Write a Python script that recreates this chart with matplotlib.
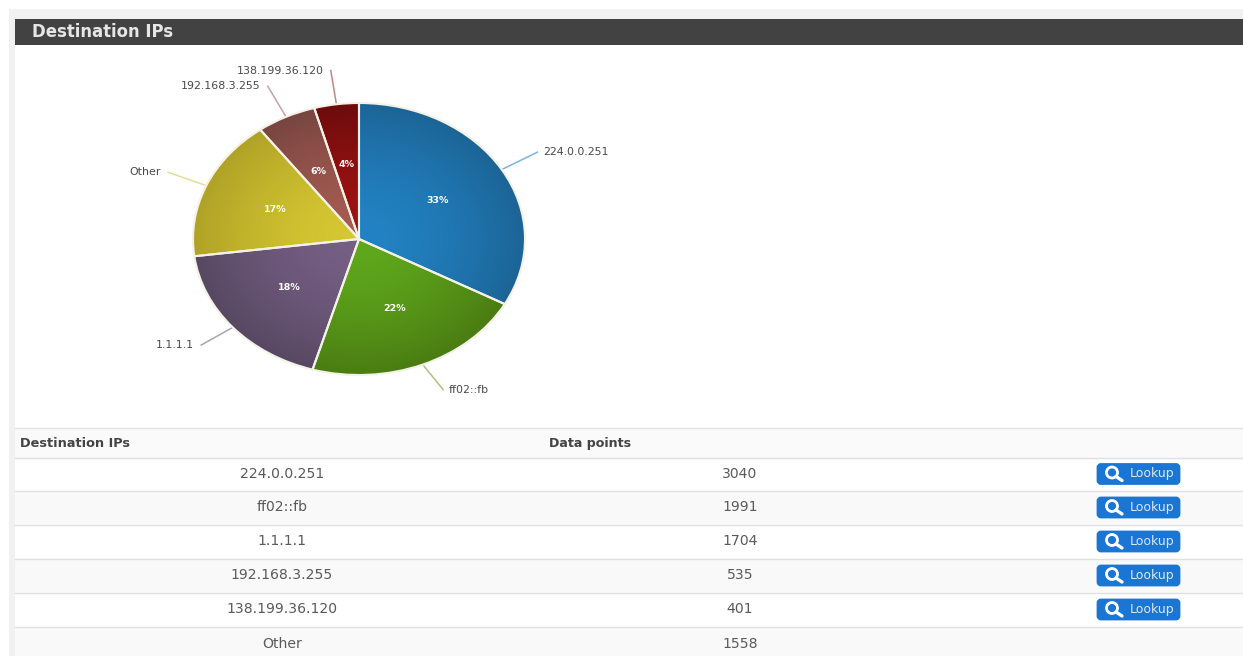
import matplotlib
matplotlib.use("Agg")
import matplotlib.pyplot as plt
import numpy as np
from matplotlib.colors import to_rgb
from matplotlib.lines import Line2D
from matplotlib.patches import Circle, FancyBboxPatch, Rectangle, Wedge

W, H = 1243, 656

# Traffic per destination, in the order the pie is drawn
pie_labels = ["224.0.0.251", "ff02::fb", "1.1.1.1", "Other", "192.168.3.255", "138.199.36.120"]
pie_values = [3040, 1991, 1704, 1558, 535, 401]
inner_colors = ["#2283c4", "#5fa81c", "#765f85", "#d6c832", "#a65c52", "#a01212"]
outer_colors = ["#1c6496", "#4a7c12", "#574862", "#b0a226", "#774540", "#6c0c0c"]
leader_colors = ["#79b6dc", "#a8c47c", "#aca2b6", "#e2de9c", "#c8a29c", "#c98484"]

# Table rows, in the order they are listed
table_names = ["224.0.0.251", "ff02::fb", "1.1.1.1", "192.168.3.255", "138.199.36.120", "Other"]
table_points = [3040, 1991, 1704, 535, 401, 1558]
has_lookup = [True, True, True, True, True, False]

row_edges = [458, 491, 525, 559, 593, 627, 662]

plt.rcParams["font.family"] = "DejaVu Sans"
fig = plt.figure(figsize=(W / 100, H / 100), dpi=100, facecolor="white")

# page layer in pixel coordinates
page = fig.add_axes([0, 0, 1, 1])
page.set_xlim(0, W)
page.set_ylim(H, 0)
page.axis("off")

page.add_patch(Rectangle((9, 9), W, H, color="#f1f1f1", lw=0))
page.add_patch(Rectangle((15, 45), W, H, color="white", lw=0))
page.add_patch(Rectangle((15, 19), W, 26, color="#424242", lw=0))
page.text(32, 37, "Destination IPs", color="#e6e6e6", fontsize=11.9, fontweight="bold",
          va="baseline", ha="left")

# table header
page.add_patch(Rectangle((15, 428), W, 30, color="#fafafa", lw=0))
page.add_line(Line2D([15, W], [428, 428], color="#e2e2e2", lw=1))
page.text(20, 447, "Destination IPs", color="#444444", fontsize=9.3, fontweight="bold", va="baseline")
page.text(549, 447, "Data points", color="#444444", fontsize=9.1, fontweight="bold", va="baseline")

# table rows
for i, (name, pts) in enumerate(zip(table_names, table_points)):
    top, bottom = row_edges[i], row_edges[i + 1]
    if i % 2 == 1:
        page.add_patch(Rectangle((15, top), W, bottom - top, color="#f9f9f9", lw=0))
    page.add_line(Line2D([15, W], [top, top], color="#e0e0e0", lw=1))
    mid = (top + bottom) / 2 - 1
    page.text(282, mid, name, color="#5a5a5a", fontsize=10.1, ha="center", va="center")
    page.text(740, mid, str(pts), color="#5a5a5a", fontsize=10.1, ha="center", va="center")
    if has_lookup[i]:
        page.add_patch(FancyBboxPatch((1098, mid - 9), 81, 19, boxstyle="round,pad=0,rounding_size=3",
                                      mutation_aspect=1, facecolor="#1a76d2", edgecolor="#1a76d2", lw=2))
        page.add_patch(Circle((1112, mid - 1), 5.5, fill=False, edgecolor="white", lw=2))
        page.add_line(Line2D([1116, 1122], [mid + 3, mid + 7], color="white", lw=2.4,
                             solid_capstyle="round"))
        page.text(1152, mid, "Lookup", color="#d8e8f8", fontsize=9, ha="center", va="center")

# pie layer, stretched wider than tall
cx, cy, rx, ry = 359, 239, 166, 136
span = 1.35
ax = fig.add_axes([(cx - span * rx) / W, 1 - (cy + span * ry) / H,
                   2 * span * rx / W, 2 * span * ry / H])
wedges, _, pct_texts = ax.pie(pie_values, colors=inner_colors, startangle=90, counterclock=False,
                              autopct="%1.0f%%", pctdistance=0.55,
                              textprops={"color": "white", "fontsize": 6.8, "fontweight": "bold"})
ax.set_aspect("auto")
ax.patch.set_alpha(0)

# radial shading, clipped to each slice
yy, xx = np.mgrid[-1:1:400j, -1:1:400j]
shade = np.clip(np.hypot(xx, yy), 0, 1)[..., None] ** 1.6
for wedge, c_in, c_out in zip(wedges, inner_colors, outer_colors):
    rgb = (1 - shade) * np.array(to_rgb(c_in)) + shade * np.array(to_rgb(c_out))
    im = ax.imshow(rgb, extent=(-1, 1, -1, 1), origin="lower", aspect="auto", zorder=2)
    im.set_clip_path(wedge)
    ax.add_patch(Wedge(wedge.center, wedge.r, wedge.theta1, wedge.theta2, fill=False,
                       edgecolor="#f4f1e6", lw=1.5, zorder=3))
ax.set_xlim(-span, span)
ax.set_ylim(-span, span)

for t in pct_texts:
    t.set_zorder(5)

# leader lines and slice names; lines run shorter under the pie
for wedge, label, color in zip(wedges, pie_labels, leader_colors):
    angle = np.deg2rad((wedge.theta1 + wedge.theta2) / 2)
    ux, uy = np.cos(angle), np.sin(angle)
    end_x = ux * (1.32 if uy < -0.9 else 1.25)
    end_y = uy * (1.2 if uy < 0 else 1.25)
    ax.plot([ux, end_x], [uy, end_y], color=color, lw=1.1, zorder=1, clip_on=False)
    right_side = ux > 0
    ax.annotate(label, xy=(end_x, end_y), xytext=(4 if right_side else -5, 0),
                textcoords="offset points", ha="left" if right_side else "right", va="center",
                fontsize=7.9, color="#4a4a4a", annotation_clip=False)

fig.savefig("out.png", dpi=100)
